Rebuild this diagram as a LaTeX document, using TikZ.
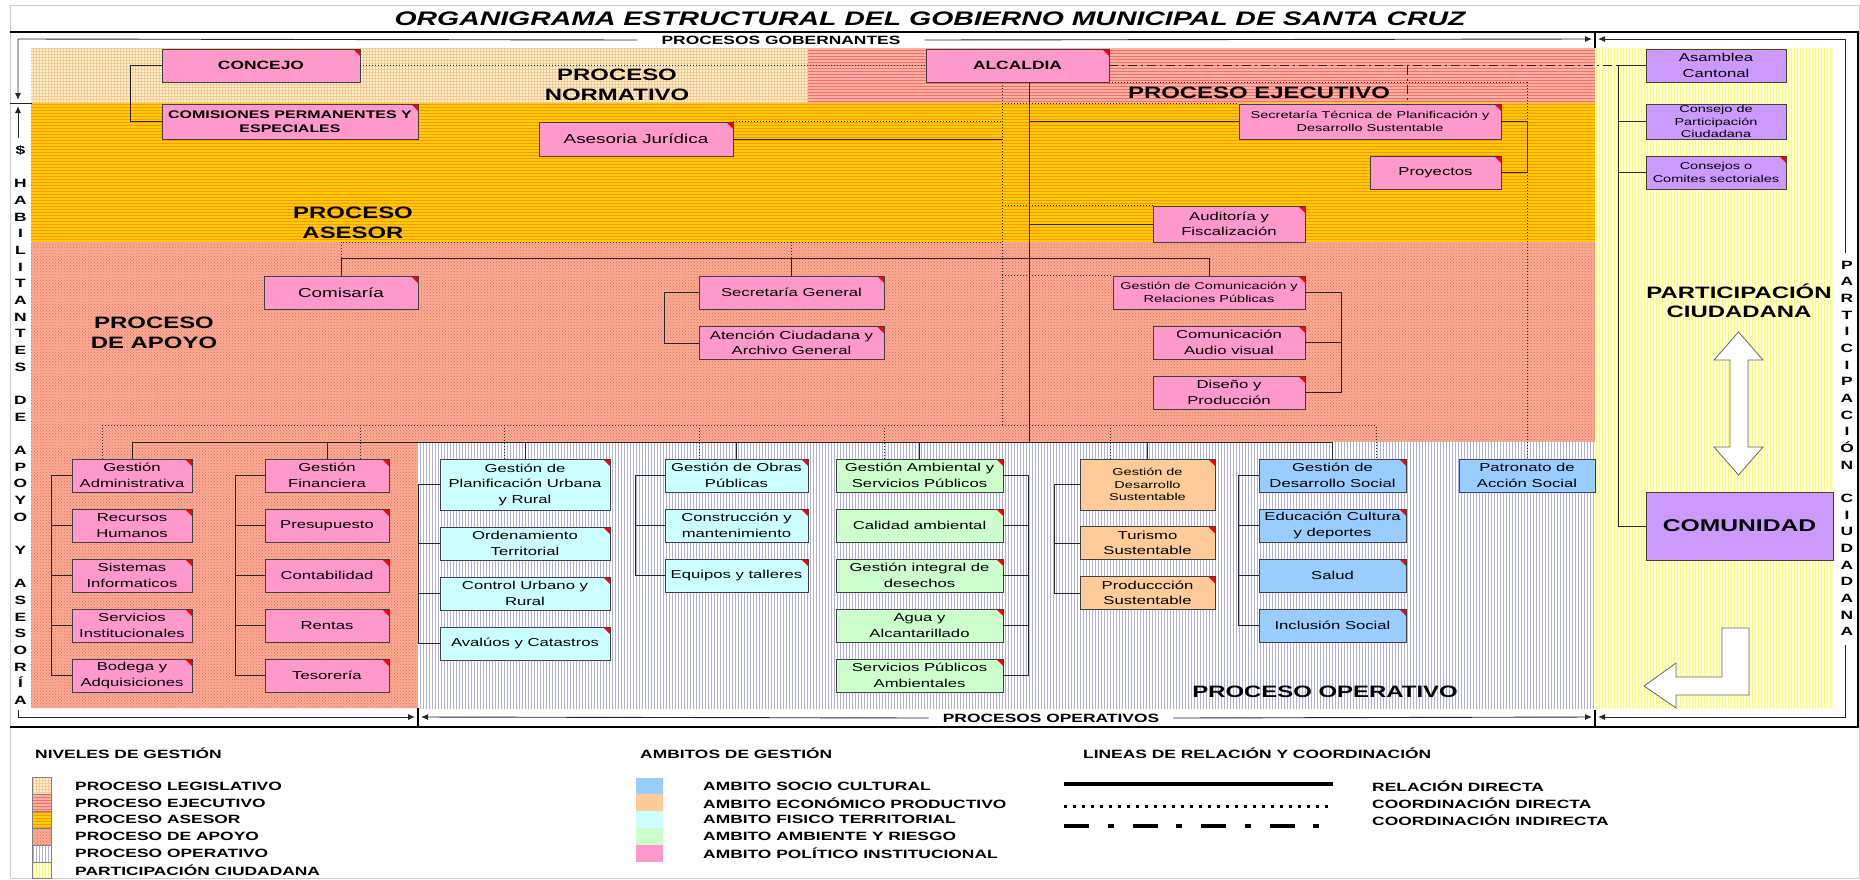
\documentclass[tikz,border=0pt]{standalone}
\usepackage{fontspec}
\setmainfont{Liberation Sans}[FakeStretch=1.45]
\usetikzlibrary{patterns,arrows.meta}

\definecolor{inst}{RGB}{255,153,204}
\definecolor{part}{RGB}{204,153,255}
\definecolor{fisi}{RGB}{204,255,255}
\definecolor{ambi}{RGB}{204,255,204}
\definecolor{econ}{RGB}{255,204,153}
\definecolor{soci}{RGB}{153,204,255}
\definecolor{legis}{RGB}{255,242,204}
\definecolor{legisl}{RGB}{245,200,150}
\definecolor{ejec}{RGB}{255,176,160}
\definecolor{ejecl}{RGB}{245,110,110}
\definecolor{ases}{RGB}{255,204,0}
\definecolor{asesl}{RGB}{255,150,0}
\definecolor{apoy}{RGB}{250,172,148}
\definecolor{apoyl}{RGB}{235,105,90}
\definecolor{operl}{RGB}{175,175,240}
\definecolor{partc}{RGB}{255,255,210}
\definecolor{partcl}{RGB}{250,250,130}

\begin{document}
\begin{tikzpicture}[x=1pt,y=-1pt]
	\tikzstyle{redtag}=[path picture={\fill[red] ([xshift=-7pt]path picture bounding box.north east) -- (path picture bounding box.north east) -- ([yshift=-7pt]path picture bounding box.north east) -- cycle;}]
	\tikzstyle{nbox}=[draw=black!75, line width=0.8pt, align=center, inner sep=1pt, minimum height=33pt, font=\fontsize{11.5}{15.5}\selectfont]
	\tikzstyle{box}=[nbox, redtag]
	\tikzstyle{smalltxt}=[font=\fontsize{10}{12.5}\selectfont]
	\tikzstyle{cola}=[box, fill=inst, minimum width=120pt]
	\tikzstyle{colb}=[box, fill=inst, minimum width=124pt]
	\tikzstyle{colc}=[box, fill=fisi, minimum width=170pt]
	\tikzstyle{cold}=[box, fill=fisi, minimum width=143pt]
	\tikzstyle{cole}=[box, fill=ambi, minimum width=167pt]
	\tikzstyle{colf}=[box, fill=econ, minimum width=135pt]
	\tikzstyle{colg}=[box, fill=soci, minimum width=147pt]
	\tikzstyle{solidln}=[draw=black!85, line width=0.8pt]
	\tikzstyle{dotln}=[draw=black!85, line width=0.9pt, dash pattern=on 1pt off 2pt]
	\tikzstyle{dashdotln}=[draw=black!85, line width=0.9pt, dash pattern=on 9pt off 4pt on 2pt off 4pt]
	\tikzstyle{zone}=[font=\fontsize{16.5}{20}\selectfont\bfseries, align=center]
	\tikzstyle{brk}=[font=\fontsize{12}{14}\selectfont\bfseries, inner ysep=1pt]
	\tikzstyle{brkln}=[draw=black!85, line width=0.9pt]
	\tikzstyle{side}=[font=\fontsize{12}{16.67}\selectfont\bfseries, align=center, inner sep=0pt]
	\tikzstyle{leghead}=[font=\fontsize{12}{14}\selectfont\bfseries, anchor=west, inner sep=0pt]
	\tikzstyle{legtxt}=[font=\fontsize{12}{14}\selectfont\bfseries, anchor=west, inner sep=0pt]
	\tikzstyle{zlegis}=[preaction={fill=legis}, pattern=grid, pattern color=legisl]
	\tikzstyle{zejec}=[preaction={fill=ejec}, pattern=horizontal lines, pattern color=ejecl]
	\tikzstyle{zases}=[preaction={fill=ases}, pattern=horizontal lines, pattern color=asesl]
	\tikzstyle{zapoy}=[preaction={fill=apoy}, pattern=crosshatch dots, pattern color=apoyl]
	\tikzstyle{zoper}=[preaction={fill=white}, pattern=vertical lines, pattern color=operl]
	\tikzstyle{zpartc}=[preaction={fill=partc}, pattern=vertical lines, pattern color=partcl]
	\useasboundingbox (0,0) rectangle (1860,879);

	\path[zlegis] (31,48) rectangle (808,103);
	\path[zejec] (808,48) rectangle (1595,103);
	\path[zases] (31,103) rectangle (1595,242);
	\path[zapoy] (31,242) -- (1595,242) -- (1595,442) -- (418,442) -- (418,708) -- (31,708) -- cycle;
	\path[zoper] (418,442) rectangle (1595,708);
	\path[zpartc] (1595,48) rectangle (1833,708);

	\node[font=\fontsize{19.6}{22}\selectfont\bfseries\itshape] (title) at (930,19) {ORGANIGRAMA ESTRUCTURAL DEL GOBIERNO MUNICIPAL DE SANTA CRUZ};
	\node[zone] (znorm) at (617,84.5) {PROCESO\\NORMATIVO};
	\node[zone] (zejecl) at (1259,93) {PROCESO EJECUTIVO};
	\node[zone] (zasesl) at (353,223) {PROCESO\\ASESOR};
	\node[zone] (zapoyl) at (154,333) {PROCESO\\DE APOYO};
	\node[zone] (zoperl) at (1325,692) {PROCESO OPERATIVO};
	\node[zone, font=\fontsize{16.5}{18.5}\selectfont\bfseries] (zpartl) at (1739,301) {PARTICIPACIÓN\\CIUDADANA};

	\node[box, fill=inst, minimum width=198pt, font=\fontsize{12}{14}\selectfont\bfseries] (concejo) at (261,65.5) {CONCEJO};
	\node[box, fill=inst, minimum width=256pt, minimum height=35pt, font=\fontsize{11}{14.5}\selectfont\bfseries] (comis) at (290,121.5) {COMISIONES PERMANENTES Y\\ESPECIALES};
	\node[box, fill=inst, minimum width=183pt, font=\fontsize{12}{14}\selectfont\bfseries] (alcaldia) at (1017.5,65.5) {ALCALDIA};
	\node[box, fill=inst, minimum width=194pt, minimum height=34pt, font=\fontsize{13}{15}\selectfont] (juridica) at (636,139) {Asesoria Jurídica};
	\node[box, fill=inst, minimum width=262pt, minimum height=35pt, smalltxt] (sectec) at (1370,121.5) {Secretaría Técnica de Planificación y\\Desarrollo Sustentable};
	\node[box, fill=inst, minimum width=131pt] (proyectos) at (1435.5,172.5) {Proyectos};
	\node[box, fill=inst, minimum width=152pt, minimum height=36pt] (auditoria) at (1229,224) {Auditoría y\\Fiscalización};
	\node[box, fill=inst, minimum width=154pt, font=\fontsize{13}{15}\selectfont] (comisaria) at (341,292.5) {Comisaría};
	\node[box, fill=inst, minimum width=185pt] (secgen) at (791.5,292.5) {Secretaría General};
	\node[box, fill=inst, minimum width=185pt] (atencion) at (791.5,343) {Atención Ciudadana y\\Archivo General};
	\node[box, fill=inst, minimum width=192pt, smalltxt] (gcom) at (1209,292.5) {Gestión de Comunicación y\\Relaciones Públicas};
	\node[box, fill=inst, minimum width=152pt] (audiovis) at (1229,342.5) {Comunicación\\Audio visual};
	\node[box, fill=inst, minimum width=152pt] (diseno) at (1229,392.5) {Diseño y\\Producción};

	\node[nbox, fill=part, minimum width=140pt] (asamblea) at (1716,65.5) {Asamblea\\Cantonal};
	\node[nbox, fill=part, minimum width=140pt, minimum height=35pt, smalltxt] (consejo) at (1716,121.5) {Consejo de\\Participación\\Ciudadana};
	\node[box, fill=part, minimum width=140pt, smalltxt] (comites) at (1716,172.5) {Consejos o\\Comites sectoriales};
	\node[nbox, fill=part, minimum width=187pt, minimum height=68pt, font=\fontsize{17}{20}\selectfont\bfseries] (comunidad) at (1739.5,526) {COMUNIDAD};

	\node[cola] (adm) at (132,475.5) {Gestión\\Administrativa};
	\node[cola] (rh) at (132,525.5) {Recursos\\Humanos};
	\node[cola] (sis) at (132,575.5) {Sistemas\\Informaticos};
	\node[cola] (ser) at (132,625.5) {Servicios\\Institucionales};
	\node[cola] (bod) at (132,675.5) {Bodega y\\Adquisiciones};

	\node[colb] (fin) at (327,475.5) {Gestión\\Financiera};
	\node[colb] (pre) at (327,525.5) {Presupuesto};
	\node[colb] (con) at (327,575.5) {Contabilidad};
	\node[colb] (ren) at (327,625.5) {Rentas};
	\node[colb] (tes) at (327,675.5) {Tesorería};

	\node[colc, minimum height=51pt] (pla) at (525,484.5) {Gestión de\\Planificación Urbana\\y Rural};
	\node[colc] (ord) at (525,543.5) {Ordenamiento\\Territorial};
	\node[colc] (ctl) at (525,593.5) {Control Urbano y\\Rural};
	\node[colc] (ava) at (525,643.5) {Avalúos y Catastros};

	\node[cold] (obr) at (736.5,475.5) {Gestión de Obras\\Públicas};
	\node[cold] (cons) at (736.5,525.5) {Construcción y\\mantenimiento};
	\node[cold] (equ) at (736.5,575.5) {Equipos y talleres};

	\node[cole] (amb) at (919.5,475.5) {Gestión Ambiental y\\Servicios Públicos};
	\node[cole] (cal) at (919.5,525.5) {Calidad ambiental};
	\node[cole] (des) at (919.5,575.5) {Gestión integral de\\desechos};
	\node[cole] (agu) at (919.5,625.5) {Agua y\\Alcantarillado};
	\node[cole] (spa) at (919.5,675.5) {Servicios Públicos\\Ambientales};

	\node[colf, minimum height=51pt, smalltxt] (dsu) at (1147.5,484.5) {Gestión de\\Desarrollo\\Sustentable};
	\node[colf] (tur) at (1147.5,543) {Turismo\\Sustentable};
	\node[colf] (pro) at (1147.5,593) {Produccción\\Sustentable};

	\node[colg] (dsoc) at (1332.5,475.5) {Gestión de\\Desarrollo Social};
	\node[colg] (edu) at (1332.5,525.5) {Educación Cultura\\y deportes};
	\node[colg] (sal) at (1332.5,575.5) {Salud};
	\node[colg] (inc) at (1332.5,625.5) {Inclusión Social};

	\node[nbox, fill=soci, minimum width=136pt] (pat) at (1527,475.5) {Patronato de\\Acción Social};

	\coordinate (trk) at (1029,442);
	\coordinate (dtr) at (1002,426);
	\coordinate (ab) at (0,258);
	\coordinate (db) at (0,242);
	\coordinate (sb) at (0,442);
	\coordinate (pv) at (1618,65.5);
	\coordinate (ind) at (1407,65.5);

	\draw[solidln] (alcaldia.south -| trk) -- (trk);
	\draw[dotln] (alcaldia.south -| dtr) -- (dtr);
	\draw[dotln] (concejo.east) -- (alcaldia.west);
	\draw[solidln] (concejo.west) -- ++(-31,0) |- (comis.west);
	\draw[solidln] (sectec.west) -- (sectec.west -| trk);
	\draw[solidln] (auditoria.west) -- (auditoria.west -| trk);
	\draw[solidln] (juridica.east) -- (juridica.east -| dtr);
	\draw[dotln] (juridica.north east) -- (juridica.north east -| dtr);
	\draw[dotln] (sectec.north west -| dtr) -- (sectec.north west);
	\draw[dotln] (auditoria.north west -| dtr) -- (auditoria.north west);
	\draw[dotln] (gcom.north west -| dtr) -- (gcom.north west);
	\draw[solidln] (sectec.east) -- ++(26,0) |- (proyectos.east);
	\draw[dotln] (alcaldia.south east) -| (pat.north);
	\draw[dashdotln] (alcaldia.east) -- (pv);
	\draw[dashdotln] (ind) -- (sectec.north -| ind);
	\draw[solidln] (asamblea.west) -- (pv) |- (comunidad.west);
	\draw[solidln] (consejo.west) -- (consejo.west -| pv);
	\draw[solidln] (comites.west) -- (comites.west -| pv);

	\draw[solidln] (comisaria.north) -- (comisaria.north |- ab) -| (gcom.north);
	\draw[solidln] (secgen.north) -- (secgen.north |- ab);
	\draw[dotln] (comisaria.north |- ab) -- (comisaria.north |- db) -- (dtr |- db);
	\draw[dotln] (secgen.north |- ab) -- (secgen.north |- db);
	\draw[solidln] (secgen.west) -- ++(-34,0) |- (atencion.west);
	\draw[solidln] (gcom.east) -- ++(36,0) coordinate (gcb) |- (diseno.east);
	\draw[solidln] (audiovis.east) -- (audiovis.east -| gcb);

	\draw[solidln] (adm.north) -- (adm.north |- sb) -| (dsoc.north);
	\foreach \n in {fin,pla,obr,amb,dsu}
		\draw[solidln] (\n.north) -- (\n.north |- sb);
	\draw[dotln] ([xshift=-30pt]adm.north) -- ++(0,-33) -| ([xshift=43.5pt]dsoc.north);
	\foreach \n/\s in {fin/33,pla/-21,obr/-37.5,amb/-35.5,dsu/-37.5}
		\draw[dotln] ([xshift=\s pt]\n.north) -- ++(0,-33);

	\draw[solidln] (adm.west) -- ++(-20,0) |- (bod.west);
	\foreach \n in {rh,sis,ser}
		\draw[solidln] (\n.west) -- ++(-20,0);
	\draw[solidln] (fin.west) -- ++(-29,0) |- (tes.west);
	\foreach \n in {pre,con,ren}
		\draw[solidln] (\n.west) -- ++(-29,0);
	\draw[solidln] (pla.west) -- ++(-21,0) |- (ava.west);
	\foreach \n in {ord,ctl}
		\draw[solidln] (\n.west) -- ++(-21,0);
	\draw[solidln] (obr.west) -- ++(-29,0) |- (equ.west);
	\draw[solidln] (cons.west) -- ++(-29,0);
	\draw[solidln] (amb.east) -- ++(25,0) |- (spa.east);
	\foreach \n in {cal,des,agu}
		\draw[solidln] (\n.east) -- ++(25,0);
	\draw[solidln] (dsu.west) -- ++(-25,0) |- (pro.west);
	\draw[solidln] (tur.west) -- ++(-25,0);
	\draw[solidln] (dsoc.west) -- ++(-20,0) |- (inc.west);
	\foreach \n in {edu,sal}
		\draw[solidln] (\n.west) -- ++(-20,0);

	\draw[fill=white, draw=black!60, line width=0.8pt] (1738.5,332) -- (1763,360) -- (1748,360) -- (1748,447) -- (1763,447) -- (1738.5,475) -- (1714,447) -- (1730,447) -- (1730,360) -- (1714,360) -- cycle;
	\draw[fill=white, draw=black!60, line width=0.8pt] (1749,628) -- (1749,695) -- (1676,695) -- (1676,708) -- (1644,686) -- (1676,663) -- (1676,677) -- (1722,677) -- (1722,628) -- cycle;

	\draw[gray!40] (10,5) rectangle (1859,878);
	\draw[line width=2pt] (10,32) -- (1858,32) -- (1858,727) -- (10,727);

	\node[brk, inner xsep=24pt] (gob) at (781,40) {PROCESOS GOBERNANTES};
	\node[brk, inner xsep=14pt] (ope) at (1051,718) {PROCESOS OPERATIVOS};
	\coordinate (gl) at (18,39);
	\coordinate (gd) at (18,100);
	\coordinate (gr) at (1592,39);
	\coordinate (pr) at (1845,39);
	\coordinate (ol) at (18,717);
	\coordinate (or) at (1845,717);
	\draw[brkln, -{Latex[length=7pt,width=6pt]}] (gob.west) -- (gl) -- (gd);
	\draw[brkln, -{Latex[length=7pt,width=6pt]}] (gob.east) -- (gr);
	\draw[brkln, {Latex[length=7pt,width=6pt]}-] (1598,39) -- (pr) -- (1845,253);
	\draw[brkln] (10,103) -- (32,103);
	\draw[brkln, {Latex[length=7pt,width=6pt]}-] (18,106) -- (18,138);
	\draw[line width=1.2pt] (1595,32) -- (1595,48);
	\draw[brkln, -{Latex[length=7pt,width=6pt]}] (18,710) -- (ol) -- (415,717);
	\draw[brkln, {Latex[length=7pt,width=6pt]}-] (421,717) -- (ope.west);
	\draw[brkln, -{Latex[length=7pt,width=6pt]}] (ope.east) -- (1592,717);
	\draw[brkln, {Latex[length=7pt,width=6pt]}-] (1598,717) -- (or) -- (1845,645);
	\draw[line width=1.2pt] (418,708) -- (418,727);
	\draw[line width=1.2pt] (1595,710) -- (1595,727);

	\node[side] (hab) at (20.5,425) {\$\\ \\H\\A\\B\\I\\L\\I\\T\\A\\N\\T\\E\\S\\ \\D\\E\\ \\A\\P\\O\\Y\\O\\ \\Y\\ \\A\\S\\E\\S\\O\\R\\Í\\A};
	\node[side] (pcd) at (1847,448.3) {P\\A\\R\\T\\I\\C\\I\\P\\A\\C\\I\\Ó\\N\\ \\C\\I\\U\\D\\A\\D\\A\\N\\A};

	\node[leghead] (lniv) at (35,753) {NIVELES DE GESTIÓN};
	\node[leghead] (lamb) at (640,753) {AMBITOS DE GESTIÓN};
	\node[leghead] (llin) at (1083,753) {LINEAS DE RELACIÓN Y COORDINACIÓN};
	\path[zlegis, draw=gray] (32,777.5) rectangle (51,794.4);
	\path[zejec, draw=gray] (32,794.4) rectangle (51,811.3);
	\path[zases, draw=gray] (32,811.3) rectangle (51,828.2);
	\path[zapoy, draw=gray] (32,828.2) rectangle (51,845.1);
	\path[zoper, draw=gray] (32,845.1) rectangle (51,862);
	\path[zpartc, draw=gray] (32,862) rectangle (51,878);
	\foreach \t [count=\i] in {PROCESO LEGISLATIVO,PROCESO EJECUTIVO,PROCESO ASESOR,PROCESO DE APOYO,PROCESO OPERATIVO,PARTICIPACIÓN CIUDADANA}
		\node[legtxt] (niv\i) at (75,{769.1+16.9*\i}) {\t};
	\foreach \c [count=\i] in {soci,econ,fisi,ambi,inst}
		\fill[\c] (636,{760.6+16.9*\i}) rectangle (663,{777.5+16.9*\i});
	\foreach \t [count=\i] in {AMBITO SOCIO CULTURAL,AMBITO ECONÓMICO PRODUCTIVO,AMBITO FISICO TERRITORIAL,AMBITO AMBIENTE Y RIESGO,AMBITO POLÍTICO INSTITUCIONAL}
		\node[legtxt] (amb\i) at (703,{769.1+16.9*\i}) {\t};
	\draw[line width=4pt] (1064,784) -- (1333,784);
	\draw[line width=3pt, dash pattern=on 3pt off 6pt] (1064,806) -- (1333,806);
	\draw[line width=4.5pt, dash pattern=on 25pt off 18.5pt on 6pt off 19pt] (1064,826) -- (1333,826);
	\foreach \t [count=\i] in {RELACIÓN DIRECTA,COORDINACIÓN DIRECTA,COORDINACIÓN INDIRECTA}
		\node[legtxt] (lin\i) at (1372,{769.1+16.9*\i}) {\t};
\end{tikzpicture}
\end{document}
